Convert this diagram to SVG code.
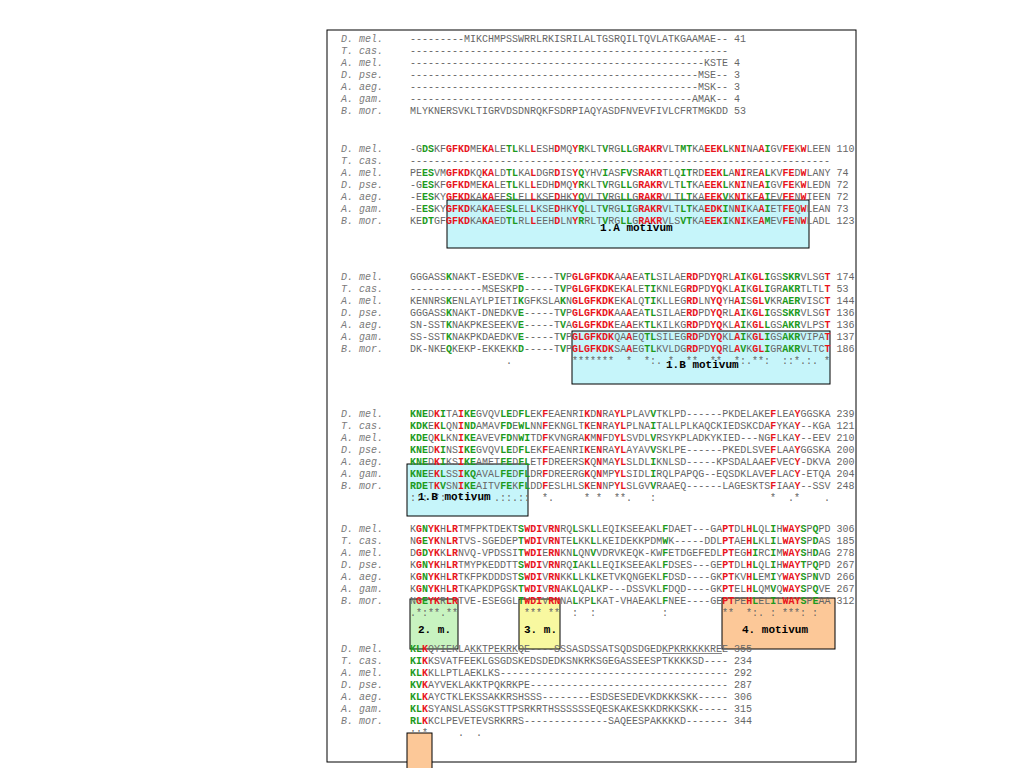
<svg xmlns="http://www.w3.org/2000/svg" width="1024" height="768" viewBox="0 0 1024 768">
<style>
.frame{fill:#fff;stroke:#000;stroke-width:1}
.box{stroke:#000;stroke-width:1}
.cy{fill:#c6f5fa}.gr{fill:#c8f3c0}.ye{fill:#f8f8a0}.or{fill:#fcc898}
.sp{font-family:"Liberation Mono",monospace;font-size:10px;font-style:italic;fill:#7a7a7a}
.q{font-family:"Liberation Mono",monospace;font-size:10px;fill:#666;white-space:pre}
.r{fill:#e8141c;font-weight:bold}
.g{fill:#1d9a1d;font-weight:bold}
.lb{font-family:"Liberation Mono",monospace;font-size:11px;font-weight:bold;fill:#000}
.ul{stroke:#666;stroke-width:0.8}
</style>
<rect class="frame" x="327" y="30" width="529" height="732"/>

<g id="motif-1A"><rect class="box cy" x="447" y="200" width="362" height="48"/></g>
<g id="motif-1B-a"><rect class="box cy" x="572" y="331" width="258" height="53"/></g>
<g id="motif-1B-b"><rect class="box cy" x="407" y="464" width="121" height="52"/></g>
<g id="motif-2"><rect class="box gr" x="410" y="599" width="48" height="50"/></g>
<g id="motif-3"><rect class="box ye" x="519" y="599" width="41" height="50"/></g>
<g id="motif-4"><rect class="box or" x="722" y="598" width="113" height="51"/></g>

<g id="block1">
<text class="sp" x="341" y="41.5">D. mel.</text><text class="sp" x="341" y="53.5">T. cas.</text><text class="sp" x="341" y="65.5">A. mel.</text><text class="sp" x="341" y="77.5">D. pse.</text><text class="sp" x="341" y="89.5">A. aeg.</text><text class="sp" x="341" y="101.5">A. gam.</text><text class="sp" x="341" y="113.5">B. mor.</text>
<text class="q" x="410" y="41.5">---------MIKCHMPSSWRRLRKISRILALTGSRQILTQVLATKGAAMAE-- 41</text>
<text class="q" x="410" y="53.5">-----------------------------------------------------</text>
<text class="q" x="410" y="65.5">-------------------------------------------------KSTE 4</text>
<text class="q" x="410" y="77.5">------------------------------------------------MSE-- 3</text>
<text class="q" x="410" y="89.5">------------------------------------------------MSK-- 3</text>
<text class="q" x="410" y="101.5">-----------------------------------------------AMAK-- 4</text>
<text class="q" x="410" y="113.5">MLYKNERSVKLTIGRVDSDNRQKFSDRPIAQYASDFNVEVFIVLCFRTMGKDD 53</text>
</g>

<g id="block2">
<text class="sp" x="341" y="151.5">D. mel.</text><text class="sp" x="341" y="163.5">T. cas.</text><text class="sp" x="341" y="175.5">A. mel.</text><text class="sp" x="341" y="187.5">D. pse.</text><text class="sp" x="341" y="199.5">A. aeg.</text><text class="sp" x="341" y="211.5">A. gam.</text><text class="sp" x="341" y="223.5">B. mor.</text>
<text class="q" x="410" y="151.5">-G<tspan class="g">DS</tspan>KF<tspan class="r">GFKD</tspan>ME<tspan class="r">KA</tspan>LE<tspan class="g">TL</tspan>KL<tspan class="r">L</tspan>ESH<tspan class="r">D</tspan>MQ<tspan class="r">Y</tspan><tspan class="g">R</tspan>KLT<tspan class="g">V</tspan>RG<tspan class="g">LL</tspan>G<tspan class="r">RAKR</tspan>VLT<tspan class="g">MT</tspan>KA<tspan class="r">EEK</tspan><tspan class="g">L</tspan>K<tspan class="r">NI</tspan>NA<tspan class="r">A</tspan><tspan class="g">I</tspan>GV<tspan class="r">FE</tspan>K<tspan class="r">W</tspan>LEEN 110</text>
<text class="q" x="410" y="163.5">----------------------------------------------------------------------</text>
<text class="q" x="410" y="175.5">PE<tspan class="g">ES</tspan>VM<tspan class="r">GFKD</tspan>KQ<tspan class="r">KA</tspan>LD<tspan class="g">TL</tspan>KA<tspan class="r">L</tspan>DGR<tspan class="r">D</tspan>IS<tspan class="r">Y</tspan><tspan class="g">Q</tspan>YHV<tspan class="g">I</tspan>AS<tspan class="g">FV</tspan>S<tspan class="r">RAKR</tspan>TLQ<tspan class="g">IT</tspan>RD<tspan class="r">EEK</tspan><tspan class="g">L</tspan>A<tspan class="r">NI</tspan>RE<tspan class="r">A</tspan><tspan class="g">L</tspan>KV<tspan class="r">FE</tspan>D<tspan class="r">W</tspan>LANY 74</text>
<text class="q" x="410" y="187.5">-G<tspan class="g">ES</tspan>KF<tspan class="r">GFKD</tspan>ME<tspan class="r">KA</tspan>LE<tspan class="g">TL</tspan>KL<tspan class="r">L</tspan>EDH<tspan class="r">D</tspan>MQ<tspan class="r">Y</tspan><tspan class="g">R</tspan>KLT<tspan class="g">V</tspan>RG<tspan class="g">LL</tspan>G<tspan class="r">RAKR</tspan>VLT<tspan class="g">LT</tspan>KA<tspan class="r">EEK</tspan><tspan class="g">L</tspan>K<tspan class="r">NI</tspan>NE<tspan class="r">A</tspan><tspan class="g">I</tspan>GV<tspan class="r">FE</tspan>K<tspan class="r">W</tspan>LEDN 72</text>
<text class="q" x="410" y="199.5">-E<tspan class="g">ES</tspan>KY<tspan class="r">GFKD</tspan>KA<tspan class="r">KA</tspan>EE<tspan class="g">SL</tspan>EL<tspan class="r">L</tspan>KSE<tspan class="r">D</tspan>HK<tspan class="r">Y</tspan><tspan class="g">Q</tspan>VLT<tspan class="g">V</tspan>RG<tspan class="g">LL</tspan>G<tspan class="r">RAKR</tspan>VLT<tspan class="g">LT</tspan>KA<tspan class="r">EEK</tspan><tspan class="g">V</tspan>K<tspan class="r">NI</tspan>KE<tspan class="r">A</tspan><tspan class="g">I</tspan>EV<tspan class="r">FE</tspan>N<tspan class="r">W</tspan>IEEN 72</text>
<text class="q" x="410" y="211.5">-E<tspan class="g">ES</tspan>KY<tspan class="r">GFKD</tspan>KA<tspan class="r">KA</tspan>EE<tspan class="g">SL</tspan>EL<tspan class="r">L</tspan>KSE<tspan class="r">D</tspan>HK<tspan class="r">Y</tspan><tspan class="g">Q</tspan>LLT<tspan class="g">V</tspan>RG<tspan class="g">LI</tspan>G<tspan class="r">RAKR</tspan>VLT<tspan class="g">LT</tspan>KA<tspan class="r">EDK</tspan><tspan class="g">I</tspan>N<tspan class="r">NI</tspan>KA<tspan class="r">A</tspan><tspan class="g">I</tspan>ET<tspan class="r">FE</tspan>Q<tspan class="r">W</tspan>LEAN 73</text>
<text class="q" x="410" y="223.5">KE<tspan class="g">DT</tspan>GF<tspan class="r">GFKD</tspan>KA<tspan class="r">KA</tspan>ED<tspan class="g">TL</tspan>RL<tspan class="r">L</tspan>EEH<tspan class="r">D</tspan>LN<tspan class="r">Y</tspan><tspan class="g">R</tspan>RLT<tspan class="g">V</tspan>RG<tspan class="g">LL</tspan>G<tspan class="r">RAKR</tspan>VLS<tspan class="g">VT</tspan>KA<tspan class="r">EEK</tspan><tspan class="g">I</tspan>K<tspan class="r">NI</tspan>KE<tspan class="r">A</tspan><tspan class="g">M</tspan>EV<tspan class="r">FE</tspan>N<tspan class="r">W</tspan>LADL 123</text>
</g>

<g id="block3">
<text class="sp" x="341" y="279.5">D. mel.</text><text class="sp" x="341" y="291.5">T. cas.</text><text class="sp" x="341" y="303.5">A. mel.</text><text class="sp" x="341" y="315.5">D. pse.</text><text class="sp" x="341" y="327.5">A. aeg.</text><text class="sp" x="341" y="339.5">A. gam.</text><text class="sp" x="341" y="351.5">B. mor.</text>
<text class="q" x="410" y="279.5">GGGASS<tspan class="g">K</tspan>NAKT-ESEDKV<tspan class="g">E</tspan>-----T<tspan class="g">V</tspan>P<tspan class="r">GLGFKDK</tspan>AA<tspan class="r">A</tspan>EA<tspan class="g">TL</tspan>SILAE<tspan class="r">RD</tspan>PD<tspan class="r">YQ</tspan>RL<tspan class="r">A</tspan><tspan class="g">I</tspan>K<tspan class="r">GL</tspan><tspan class="g">I</tspan>GS<tspan class="g">SKR</tspan>VLSG<tspan class="r">T</tspan> 174</text>
<text class="q" x="410" y="291.5">------------MSESKP<tspan class="g">D</tspan>-----T<tspan class="g">V</tspan>P<tspan class="r">GLGFKDK</tspan>EK<tspan class="r">A</tspan>LE<tspan class="g">TI</tspan>KNLEG<tspan class="r">RD</tspan>PD<tspan class="r">YQ</tspan>KL<tspan class="r">A</tspan><tspan class="g">I</tspan>K<tspan class="r">GL</tspan><tspan class="g">I</tspan>GR<tspan class="g">AKR</tspan>TLTL<tspan class="r">T</tspan> 53</text>
<text class="q" x="410" y="303.5">KENNRS<tspan class="g">K</tspan>ENLAYLPIETI<tspan class="g">K</tspan>GFKSLA<tspan class="g">K</tspan>N<tspan class="r">GLGFKDK</tspan>EK<tspan class="r">A</tspan>LQ<tspan class="g">TI</tspan>KLLEG<tspan class="r">RD</tspan>LN<tspan class="r">YQ</tspan>YH<tspan class="r">A</tspan><tspan class="g">I</tspan>S<tspan class="r">GL</tspan><tspan class="g">V</tspan>KR<tspan class="g">AER</tspan>VISC<tspan class="r">T</tspan> 144</text>
<text class="q" x="410" y="315.5">GGGASS<tspan class="g">K</tspan>NAKT-DNEDKV<tspan class="g">E</tspan>-----T<tspan class="g">V</tspan>P<tspan class="r">GLGFKDK</tspan>AA<tspan class="r">A</tspan>EA<tspan class="g">TL</tspan>SILAE<tspan class="r">RD</tspan>PD<tspan class="r">YQ</tspan>RL<tspan class="r">A</tspan><tspan class="g">I</tspan>K<tspan class="r">GL</tspan><tspan class="g">I</tspan>GS<tspan class="g">SKR</tspan>VLSG<tspan class="r">T</tspan> 136</text>
<text class="q" x="410" y="327.5">SN-SST<tspan class="g">K</tspan>NAKPKESEEKV<tspan class="g">E</tspan>-----T<tspan class="g">V</tspan>A<tspan class="r">GLGFKDK</tspan>EA<tspan class="r">A</tspan>EK<tspan class="g">TL</tspan>KILKG<tspan class="r">RD</tspan>PD<tspan class="r">YQ</tspan>KL<tspan class="r">A</tspan><tspan class="g">I</tspan>K<tspan class="r">GL</tspan><tspan class="g">L</tspan>GS<tspan class="g">AKR</tspan>VLPS<tspan class="r">T</tspan> 136</text>
<text class="q" x="410" y="339.5">SS-SST<tspan class="g">K</tspan>NAKPKDAEDKV<tspan class="g">E</tspan>-----T<tspan class="g">V</tspan>P<tspan class="r">GLGFKDK</tspan>QA<tspan class="r">A</tspan>EQ<tspan class="g">TL</tspan>SILEG<tspan class="r">RD</tspan>PD<tspan class="r">YQ</tspan>KL<tspan class="r">A</tspan><tspan class="g">I</tspan>K<tspan class="r">GL</tspan><tspan class="g">I</tspan>GS<tspan class="g">AKR</tspan>VIPA<tspan class="r">T</tspan> 137</text>
<text class="q" x="410" y="351.5">DK-NKE<tspan class="g">Q</tspan>KEKP-EKKEKK<tspan class="g">D</tspan>-----T<tspan class="g">V</tspan>P<tspan class="r">GLGFKDK</tspan>SA<tspan class="r">A</tspan>EG<tspan class="g">TL</tspan>KVLDG<tspan class="r">RD</tspan>PD<tspan class="r">YQ</tspan>RL<tspan class="r">A</tspan><tspan class="g">V</tspan>K<tspan class="r">GL</tspan><tspan class="g">I</tspan>GR<tspan class="g">AKR</tspan>VLTC<tspan class="r">T</tspan> 186</text>
<text class="q" x="506" y="364" xml:space="preserve">.          *******  *  *:. *  ** .** .*:.**:  ::*.:. *</text>
</g>

<g id="block4">
<text class="sp" x="341" y="416.5">D. mel.</text><text class="sp" x="341" y="428.5">T. cas.</text><text class="sp" x="341" y="440.5">A. mel.</text><text class="sp" x="341" y="452.5">D. pse.</text><text class="sp" x="341" y="464.5">A. aeg.</text><text class="sp" x="341" y="476.5">A. gam.</text><text class="sp" x="341" y="488.5">B. mor.</text>
<text class="q" x="410" y="416.5"><tspan class="g">KNE</tspan>D<tspan class="r">K</tspan><tspan class="g">I</tspan>TA<tspan class="r">I</tspan><tspan class="g">KE</tspan>GVQV<tspan class="g">LE</tspan>D<tspan class="g">FL</tspan>EK<tspan class="r">F</tspan>EAENRI<tspan class="r">K</tspan>D<tspan class="r">N</tspan>RA<tspan class="r">YL</tspan>PLAV<tspan class="g">V</tspan>TKLPD------PKDELAKE<tspan class="r">F</tspan>LEA<tspan class="r">Y</tspan>GGSKA 239</text>
<text class="q" x="410" y="428.5"><tspan class="g">KDK</tspan>E<tspan class="r">K</tspan><tspan class="g">L</tspan>QN<tspan class="r">I</tspan><tspan class="g">ND</tspan>AMAV<tspan class="g">FD</tspan>E<tspan class="g">WL</tspan>NN<tspan class="r">F</tspan>EKNGLT<tspan class="r">K</tspan>E<tspan class="r">N</tspan>RA<tspan class="r">YL</tspan>PLNA<tspan class="g">I</tspan>TALLPLKAQCKIEDSKCDA<tspan class="r">F</tspan>YKA<tspan class="r">Y</tspan>--KGA 121</text>
<text class="q" x="410" y="440.5"><tspan class="g">KDE</tspan>Q<tspan class="r">K</tspan><tspan class="g">L</tspan>KN<tspan class="r">I</tspan><tspan class="g">KE</tspan>AVEV<tspan class="g">FD</tspan>N<tspan class="g">WI</tspan>TD<tspan class="r">F</tspan>KVNGRA<tspan class="r">K</tspan>M<tspan class="r">N</tspan>FD<tspan class="r">YL</tspan>SVDL<tspan class="g">V</tspan>RSYKPLADKYKIED---NG<tspan class="r">F</tspan>LKA<tspan class="r">Y</tspan>--EEV 210</text>
<text class="q" x="410" y="452.5"><tspan class="g">KNE</tspan>D<tspan class="r">K</tspan><tspan class="g">I</tspan>NS<tspan class="r">I</tspan><tspan class="g">KE</tspan>GVQV<tspan class="g">LE</tspan>D<tspan class="g">FL</tspan>EK<tspan class="r">F</tspan>EAENRI<tspan class="r">K</tspan>E<tspan class="r">N</tspan>RA<tspan class="r">YL</tspan>AYAV<tspan class="g">V</tspan>SKLPE------PKEDLSVE<tspan class="r">F</tspan>LAA<tspan class="r">Y</tspan>GGSKA 200</text>
<text class="q" x="410" y="464.5"><tspan class="g">KNE</tspan>D<tspan class="r">K</tspan><tspan class="g">I</tspan>KS<tspan class="r">I</tspan><tspan class="g">KE</tspan>AMET<tspan class="g">FE</tspan>D<tspan class="g">FL</tspan>ET<tspan class="r">F</tspan>DREERS<tspan class="r">K</tspan>Q<tspan class="r">N</tspan>MA<tspan class="r">YL</tspan>SLDL<tspan class="g">I</tspan>KNLSD-----KPSDALAAE<tspan class="r">F</tspan>VEC<tspan class="r">Y</tspan>-DKVA 200</text>
<text class="q" x="410" y="476.5"><tspan class="g">KNE</tspan>E<tspan class="r">K</tspan><tspan class="g">L</tspan>SS<tspan class="r">I</tspan><tspan class="g">KQ</tspan>AVAL<tspan class="g">FE</tspan>D<tspan class="g">FL</tspan>DR<tspan class="r">F</tspan>DREERG<tspan class="r">K</tspan>Q<tspan class="r">N</tspan>MP<tspan class="r">YL</tspan>SIDL<tspan class="g">I</tspan>RQLPAPQG--EQSDKLAVE<tspan class="r">F</tspan>LAC<tspan class="r">Y</tspan>-ETQA 204</text>
<text class="q" x="410" y="488.5"><tspan class="g">RDE</tspan>T<tspan class="r">K</tspan><tspan class="g">V</tspan>SN<tspan class="r">I</tspan><tspan class="g">KE</tspan>AITV<tspan class="g">FE</tspan>K<tspan class="g">FL</tspan>DD<tspan class="r">F</tspan>ESLHLS<tspan class="r">K</tspan>E<tspan class="r">N</tspan>NP<tspan class="r">YL</tspan>SLGV<tspan class="g">V</tspan>RAAEQ------LAGESKTS<tspan class="r">F</tspan>IAA<tspan class="r">Y</tspan>--SSV 248</text>
<text class="q" x="410" y="500.5" xml:space="preserve">::: *: .*::.: .::.::  *.     * *  **.   :                   *  .*    .</text>
</g>

<g id="block5">
<text class="sp" x="341" y="531.5">D. mel.</text><text class="sp" x="341" y="543.5">T. cas.</text><text class="sp" x="341" y="555.5">A. mel.</text><text class="sp" x="341" y="567.5">D. pse.</text><text class="sp" x="341" y="579.5">A. aeg.</text><text class="sp" x="341" y="591.5">A. gam.</text><text class="sp" x="341" y="603.5">B. mor.</text>
<text class="q" x="410" y="531.5">K<tspan class="r">G</tspan><tspan class="g">N</tspan><tspan class="r">YK</tspan>H<tspan class="r">LR</tspan>TMFPKTDEKT<tspan class="g">S</tspan><tspan class="r">WDI</tspan>V<tspan class="r">RN</tspan>RQ<tspan class="g">L</tspan>SK<tspan class="g">L</tspan>LEQIKSEEAKL<tspan class="g">F</tspan>DAET---GA<tspan class="r">PT</tspan>DL<tspan class="r">H</tspan><tspan class="g">L</tspan>QL<tspan class="g">I</tspan>H<tspan class="r">WAY</tspan><tspan class="g">S</tspan>P<tspan class="g">Q</tspan>PD 306</text>
<text class="q" x="410" y="543.5">N<tspan class="r">G</tspan><tspan class="g">E</tspan><tspan class="r">YK</tspan>N<tspan class="r">LR</tspan>TVS-SGEDEP<tspan class="g">T</tspan><tspan class="r">WDI</tspan>V<tspan class="r">RN</tspan>TE<tspan class="g">L</tspan>KK<tspan class="g">L</tspan>LKEIDEKKPDM<tspan class="g">W</tspan>K-----DDL<tspan class="r">PT</tspan>AE<tspan class="r">H</tspan><tspan class="g">L</tspan>KL<tspan class="g">I</tspan>L<tspan class="r">WAY</tspan><tspan class="g">S</tspan>P<tspan class="g">D</tspan>AS 185</text>
<text class="q" x="410" y="555.5">D<tspan class="r">G</tspan><tspan class="g">D</tspan><tspan class="r">YK</tspan>K<tspan class="r">LR</tspan>NVQ-VPDSSI<tspan class="g">T</tspan><tspan class="r">WDI</tspan>E<tspan class="r">RN</tspan>KN<tspan class="g">L</tspan>QN<tspan class="g">V</tspan>VDRVKEQK-KW<tspan class="g">F</tspan>ETDGEFEDL<tspan class="r">PT</tspan>EG<tspan class="r">H</tspan><tspan class="g">I</tspan>RC<tspan class="g">I</tspan>M<tspan class="r">WAY</tspan><tspan class="g">S</tspan>H<tspan class="g">D</tspan>AG 278</text>
<text class="q" x="410" y="567.5">K<tspan class="r">G</tspan><tspan class="g">N</tspan><tspan class="r">YK</tspan>H<tspan class="r">LR</tspan>TMYPKEDDTT<tspan class="g">S</tspan><tspan class="r">WDI</tspan>V<tspan class="r">RN</tspan>RQ<tspan class="g">I</tspan>AK<tspan class="g">L</tspan>LEQIKSEEAKL<tspan class="g">F</tspan>DSES---GE<tspan class="r">PT</tspan>DL<tspan class="r">H</tspan><tspan class="g">L</tspan>QL<tspan class="g">I</tspan>H<tspan class="r">WAY</tspan><tspan class="g">T</tspan>P<tspan class="g">Q</tspan>PD 267</text>
<text class="q" x="410" y="579.5">K<tspan class="r">G</tspan><tspan class="g">N</tspan><tspan class="r">YK</tspan>H<tspan class="r">LR</tspan>TKFPKDDDST<tspan class="g">S</tspan><tspan class="r">WDI</tspan>V<tspan class="r">RN</tspan>KK<tspan class="g">L</tspan>LK<tspan class="g">L</tspan>KETVKQNGEKL<tspan class="g">F</tspan>DSD----GK<tspan class="r">PT</tspan>KV<tspan class="r">H</tspan><tspan class="g">L</tspan>EM<tspan class="g">I</tspan>Y<tspan class="r">WAY</tspan><tspan class="g">S</tspan>P<tspan class="g">N</tspan>VD 266</text>
<text class="q" x="410" y="591.5">K<tspan class="r">G</tspan><tspan class="g">N</tspan><tspan class="r">YK</tspan>H<tspan class="r">LR</tspan>TKAPKDPGSK<tspan class="g">T</tspan><tspan class="r">WDI</tspan>V<tspan class="r">RN</tspan>AK<tspan class="g">L</tspan>QA<tspan class="g">L</tspan>KP---DSSVKL<tspan class="g">F</tspan>DQD----GK<tspan class="r">PT</tspan>EL<tspan class="r">H</tspan><tspan class="g">L</tspan>QM<tspan class="g">V</tspan>Q<tspan class="r">WAY</tspan><tspan class="g">S</tspan>P<tspan class="g">Q</tspan>VE 267</text>
<text class="q" x="410" y="603.5">N<tspan class="r">G</tspan><tspan class="g">E</tspan><tspan class="r">YK</tspan>R<tspan class="r">LR</tspan>TVE-ESEGGL<tspan class="g">T</tspan><tspan class="r">WDI</tspan>V<tspan class="r">RN</tspan>NA<tspan class="g">L</tspan>KP<tspan class="g">L</tspan>KAT-VHAEAKL<tspan class="g">F</tspan>NEE----GE<tspan class="r">PT</tspan>PE<tspan class="r">H</tspan><tspan class="g">L</tspan>EL<tspan class="g">I</tspan>L<tspan class="r">WAY</tspan><tspan class="g">S</tspan>P<tspan class="g">E</tspan>AA 312</text>
<text class="q" x="410" y="615.5" xml:space="preserve">.*:**.**           *** **  :  :           :         **  *:. : ***: :</text>
</g>

<g id="block6">
<text class="sp" x="341" y="651.5">D. mel.</text><text class="sp" x="341" y="663.5">T. cas.</text><text class="sp" x="341" y="675.5">A. mel.</text><text class="sp" x="341" y="687.5">D. pse.</text><text class="sp" x="341" y="699.5">A. aeg.</text><text class="sp" x="341" y="711.5">A. gam.</text><text class="sp" x="341" y="723.5">B. mor.</text>
<text class="q" x="410" y="651.5"><tspan class="g">KL</tspan><tspan class="r">K</tspan>QYIEKLAKKTPEKRKQE----SSSASDSSATSQDSDGEDKPKRKKKKREE 355</text>
<text class="q" x="410" y="663.5"><tspan class="g">KI</tspan><tspan class="r">K</tspan>KSVATFEEKLGSGDSKEDSDEDKSNKRKSGEGASSEESPTKKKKSD---- 234</text>
<text class="q" x="410" y="675.5"><tspan class="g">KL</tspan><tspan class="r">K</tspan>KLLPTLAEKLKS-------------------------------------- 292</text>
<text class="q" x="410" y="687.5"><tspan class="g">KV</tspan><tspan class="r">K</tspan>AYVEKLAKKTPQKRKPE--------------------------------- 287</text>
<text class="q" x="410" y="699.5"><tspan class="g">KL</tspan><tspan class="r">K</tspan>AYCTKLEKSSAKKRSHSSS--------ESDSESEDEVKDKKKSKK----- 306</text>
<text class="q" x="410" y="711.5"><tspan class="g">KL</tspan><tspan class="r">K</tspan>SYANSLASSGKSTTPSRKRTHSSSSSSEQESKAKESKKDRKKSKK----- 315</text>
<text class="q" x="410" y="723.5"><tspan class="g">RL</tspan><tspan class="r">K</tspan>KCLPEVETEVSRKRRS--------------SAQEESPAKKKKD------- 344</text>
<line class="ul" x1="470" y1="653.5" x2="518" y2="653.5"/>
<line class="ul" x1="662" y1="653.5" x2="722" y2="653.5"/>
<text class="q" x="410" y="735.5" xml:space="preserve">::*     .  .</text>
</g>

<g id="motif-5"><rect class="box or" x="407" y="733" width="25" height="40"/></g>

<g id="labels">
<text class="lb" x="600" y="231">1.A motivum</text>
<text class="lb" x="666" y="368">1.B motivum</text>
<text class="lb" x="418" y="500">1.B motivum</text>
<text class="lb" x="418" y="633">2. m.</text>
<text class="lb" x="524" y="633">3. m.</text>
<text class="lb" x="742" y="633">4. motivum</text>
</g>
<g id="connectors"/>
</svg>
